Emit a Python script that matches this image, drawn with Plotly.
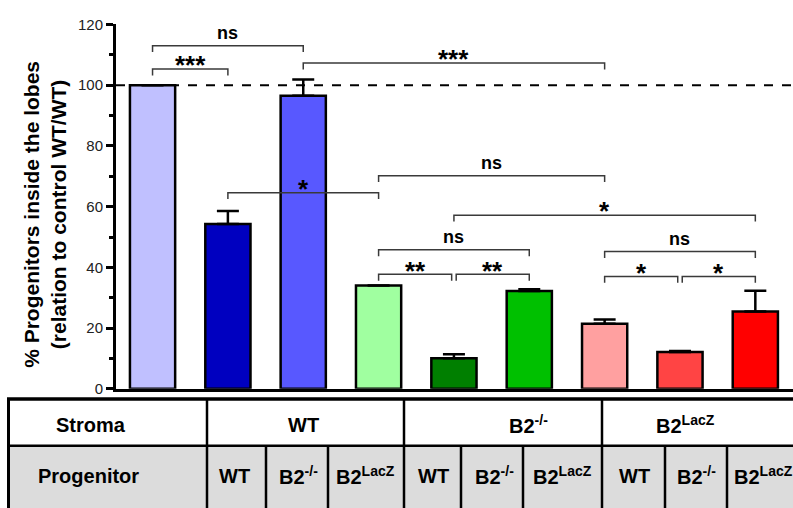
import plotly.graph_objects as go

# ---------------- data ----------------
categories = ["WT/WT", "WT/B2-/-", "WT/B2LacZ",
              "B2-/-/WT", "B2-/-/B2-/-", "B2-/-/B2LacZ",
              "B2LacZ/WT", "B2LacZ/B2-/-", "B2LacZ/B2LacZ"]
values = [100.0, 54.3, 96.5, 34.0, 10.1, 32.2, 21.4, 12.1, 25.5]
errors_up = [0.0, 4.3, 5.4, 0.0, 1.3, 0.6, 1.4, 0.4, 6.8]
bar_colors = ["#c0c0ff", "#0000c0", "#5858ff",
              "#a0ffa0", "#007f00", "#00c000",
              "#ffa0a0", "#ff4444", "#ff0000"]
y_tick_values = [0, 20, 40, 60, 80, 100, 120]
control_level = 100

# statistical comparisons (bar index from, bar index to, level, label)
comp_from = [0, 0, 2, 1, 3, 4, 3, 3, 4, 6, 6, 7]
comp_to = [1, 2, 6, 3, 6, 8, 5, 4, 5, 8, 7, 8]
comp_level = [105.3, 113.0, 107.3, 64.6, 70.2, 57.2, 45.8, 37.7, 37.7, 45.2, 37.0, 37.0]
comp_label = ["***", "ns", "***", "*", "ns", "*", "ns", "**", "**", "ns", "*", "*"]

# table rows
stroma_header = "Stroma"
progenitor_header = "Progenitor"
stroma_labels = ["WT", "B2<sup>-/-</sup>", "B2<sup>LacZ</sup>"]
progenitor_labels = ["WT", "B2<sup>-/-</sup>", "B2<sup>LacZ</sup>"] * 3

y_title = "% Progenitors inside the lobes<br>(relation to control WT/WT)"

# ---------------- layout constants ----------------
W, H = 793, 508
FONT = "Liberation Sans, Arial, Helvetica, sans-serif"


def px(x):
    return x / W


def py(y):
    return 1 - y / H


plot_left, plot_right, plot_top, plot_bottom = 116, 793, 16, 393

x = list(range(len(categories)))

fig = go.Figure()
fig.add_trace(go.Bar(
    x=x, y=values, width=0.6,
    marker=dict(color=bar_colors, line=dict(color="black", width=2.5)),
    error_y=dict(type="data", symmetric=False, array=errors_up,
                 arrayminus=[0] * len(values), color="black",
                 thickness=2.5, width=11),
    hoverinfo="skip",
))

shapes = []
annotations = []

# control dashed line
shapes.append(dict(type="line", xref="x domain", yref="y", x0=0, x1=1,
                   y0=control_level, y1=control_level, layer="below",
                   line=dict(color="black", width=2, dash="dash")))

# brackets
tick = 2.1
gap = 0.03
for i, (a, b, lev, lab) in enumerate(zip(comp_from, comp_to, comp_level, comp_label)):
    x0, x1 = float(a), float(b)
    for j, (a2, b2, lev2) in enumerate(zip(comp_from, comp_to, comp_level)):
        if j == i or abs(lev2 - lev) > 0.01:
            continue
        if b2 == a:
            x0 += gap
        if a2 == b:
            x1 -= gap
    shapes.append(dict(type="path", xref="x", yref="y",
                       path=f"M {x0},{lev - tick} L {x0},{lev} L {x1},{lev} L {x1},{lev - tick}",
                       line=dict(color="#3a3a3a", width=1.5)))
    is_star = lab.startswith("*")
    annotations.append(dict(
        x=(x0 + x1) / 2, y=lev + (3.2 if is_star else 4.3), xref="x", yref="y",
        text=f"<b>{lab}</b>", showarrow=False, xanchor="center", yanchor="middle",
        yshift=-6 if is_star else 0,
        font=dict(family=FONT, size=26 if is_star else 18, color="black")))

# y-axis title
annotations.append(dict(
    x=px(45), y=py(213), xref="paper", yref="paper", text=f"<b>{y_title}</b>",
    textangle=-90, showarrow=False, xanchor="center", yanchor="middle",
    font=dict(family=FONT, size=21, color="black")))

# ---------------- table ----------------
tbl_left, tbl_top, tbl_mid, tbl_bottom = 8.5, 403.5, 452, 530
shapes.append(dict(type="rect", xref="paper", yref="paper",
                   x0=px(tbl_left), x1=px(W + 5), y0=py(tbl_mid), y1=py(tbl_bottom),
                   fillcolor="#dcdcdc", line=dict(width=0), layer="below"))
shapes.append(dict(type="line", xref="paper", yref="paper",
                   x0=px(tbl_left - 1.5), x1=px(W + 5), y0=py(tbl_top), y1=py(tbl_top),
                   line=dict(color="black", width=3.5)))
shapes.append(dict(type="line", xref="paper", yref="paper",
                   x0=px(tbl_left), x1=px(W + 5), y0=py(tbl_mid), y1=py(tbl_mid),
                   line=dict(color="black", width=2.5)))
shapes.append(dict(type="line", xref="paper", yref="paper",
                   x0=px(tbl_left), x1=px(tbl_left), y0=py(tbl_top), y1=py(tbl_bottom),
                   line=dict(color="black", width=3)))
for xv in [207, 404, 602]:
    shapes.append(dict(type="line", xref="paper", yref="paper",
                       x0=px(xv), x1=px(xv), y0=py(tbl_top), y1=py(tbl_bottom),
                       line=dict(color="black", width=2.5)))
for xv in [266, 328, 461, 523, 665, 727]:
    shapes.append(dict(type="line", xref="paper", yref="paper",
                       x0=px(xv), x1=px(xv), y0=py(tbl_mid), y1=py(tbl_bottom),
                       line=dict(color="black", width=2.5)))

row1_y, row2_y = 430, 483
cell_font = dict(family=FONT, size=20, color="black")
annotations.append(dict(x=px(91), y=py(row1_y), xref="paper", yref="paper",
                        text=f"<b>{stroma_header}</b>", showarrow=False,
                        xanchor="center", yanchor="middle", font=cell_font))
annotations.append(dict(x=px(88), y=py(row2_y), xref="paper", yref="paper",
                        text=f"<b>{progenitor_header}</b>", showarrow=False,
                        xanchor="center", yanchor="middle", font=cell_font))
for lab, xc in zip(stroma_labels, [303, 528, 685]):
    annotations.append(dict(x=px(xc), y=py(row1_y), xref="paper", yref="paper",
                            text=f"<b>{lab}</b>", showarrow=False,
                            xanchor="center", yanchor="middle", font=cell_font))
for lab, xc in zip(progenitor_labels, [234, 298, 365, 433, 494, 562, 634, 696, 763]):
    annotations.append(dict(x=px(xc), y=py(row2_y), xref="paper", yref="paper",
                            text=f"<b>{lab}</b>", showarrow=False,
                            xanchor="center", yanchor="middle", font=cell_font))

fig.update_layout(
    width=W, height=H,
    margin=dict(l=0, r=0, t=0, b=0),
    paper_bgcolor="white", plot_bgcolor="white",
    showlegend=False,
    font=dict(family=FONT, color="black"),
    xaxis=dict(domain=[px(plot_left), px(plot_right)], range=[-0.485, 8.5],
               showline=True, linecolor="black", linewidth=3,
               showticklabels=False, ticks="", showgrid=False, zeroline=False,
               fixedrange=True),
    yaxis=dict(domain=[py(plot_bottom), py(plot_top)], range=[0, 120],
               tickvals=y_tick_values, showline=True, linecolor="black",
               linewidth=3, ticks="outside", ticklen=7, tickwidth=2.5,
               tickcolor="black", showgrid=False, zeroline=False,
               ticklabeloverflow="allow",
               tickfont=dict(family=FONT, size=15, color="#222222"),
               minor=dict(dtick=10, ticks="outside", ticklen=4, tickwidth=2.5,
                          tickcolor="black", showgrid=False),
               fixedrange=True),
    shapes=shapes,
    annotations=annotations,
)

fig.write_html(
    "out.html",
    config={"displayModeBar": False},
    post_script="document.body.style.margin='0';document.body.style.overflow='hidden';",
)
